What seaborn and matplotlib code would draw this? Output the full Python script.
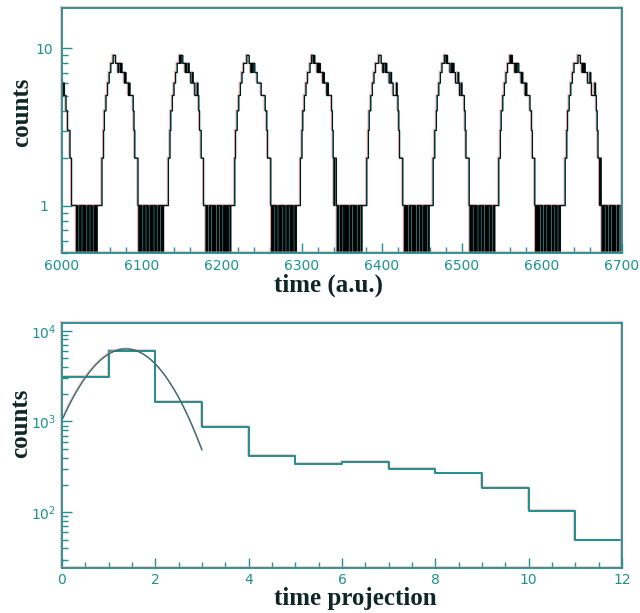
import numpy as np
import pandas as pd
import matplotlib
matplotlib.use("Agg")
import matplotlib.pyplot as plt
import matplotlib.ticker as mticker
import matplotlib.patheffects as pe
import seaborn as sns

# ---------------- data: top panel (counts per time bin, bin width 1) ----------------
time_start = 6000
time_stop = 6700
# tail of the preceding pulse, flat 1s, 0/1 background, flat 1s
lead_counts = "656554433322" "111111" "0100101101010010110100101011" "1111"
# each cycle: pulse (45 bins) + background of 0/1 counts
cycle_counts = [
    "22344556677888" "9998" "887887877767666565555432222" "1" "01010010110100101011010010110101" "11111",
    "22344556677888" "9899" "888787787766766555654332221" "1" "10100101101010010110100101010110" "11111",
    "23344556677888" "8999" "887878877766666555554432222" "1" "0101101001010110100101101010010" "11111",
    "22344556677788" "9989" "888787877767666565555432122" "1" "01001011010101001011010100101101" "11111",
    "22344556677888" "8999" "887887877766766555565432222" "1" "10101001011010100101101001010110" "11111",
    "22334556677888" "9989" "888778787766676556555432222" "1" "0101101010010110100101011010010" "11111",
    "22344556677888" "9898" "887878877767666565555443222" "1" "01010110100101101010010110100101" "11111",
    "22344556677888" "8899" "988787877766676555565432212" "1" "0101101001011010100101101",
]
top_yticks = [1, 10]
top_yticklabels = ["1", "10"]

# ---------------- data: bottom panel (time projection) ----------------
proj_edges = [0, 1, 2, 3, 4, 5, 6, 7, 8, 9, 10, 11, 12]
proj_counts = [3100, 6050, 1650, 880, 415, 340, 360, 298, 268, 187, 104, 49]
fit_amplitude = 6300.0
fit_mean = 1.37
fit_sigma = 0.72
fit_range = (0.0, 3.0)

# ---------------- style ----------------
TEAL = "#1f8f8f"
PINK = "#f09090"
LABEL = "#0f2626"
FIT = "#2d6b6b"

sns.set_theme(style="white")
plt.rcParams["path.simplify"] = False
plt.rcParams["font.family"] = ["DejaVu Sans"]

shadow = [pe.SimpleLineShadow(offset=(-0.7, 0.7), shadow_color=PINK, alpha=0.8), pe.Normal()]
soft_shadow = [pe.SimpleLineShadow(offset=(-0.6, 0.6), shadow_color=PINK, alpha=0.5), pe.Normal()]

fig = plt.figure(figsize=(6.4, 6.13), dpi=100)
W, H = 640.0, 613.0
ax1 = fig.add_axes([62 / W, 1 - 253 / H, 560 / W, 245 / H])
ax2 = fig.add_axes([62 / W, 1 - 567.7 / H, 560 / W, 245 / H])

# ---- top histogram ----
counts = [int(c) for c in lead_counts + "".join(cycle_counts)]
edges = [time_start + i for i in range(len(counts) + 1)]
df_top = pd.DataFrame({"time": [e + 0.5 for e in edges[:-1]], "counts": counts})
sns.histplot(data=df_top, x="time", weights="counts", bins=edges, element="step",
             fill=False, color=TEAL, linewidth=1.0, ax=ax1)
ax1.lines[-1].set_path_effects(shadow)
sns.histplot(data=df_top, x="time", weights="counts", bins=edges, element="step",
             fill=False, color="#030303", linewidth=0.65, ax=ax1)
ax1.set_yscale("log")
ax1.set_xlim(time_start, time_stop)
ax1.set_ylim(0.5, 18)

# ---- bottom histogram + fit ----
df_bot = pd.DataFrame({"x": [e + 0.5 for e in proj_edges[:-1]], "w": proj_counts})
sns.histplot(data=df_bot, x="x", weights="w", bins=proj_edges, element="step",
             fill=False, color=TEAL, linewidth=1.4, ax=ax2)
ax2.lines[-1].set_path_effects(soft_shadow)
fx = np.linspace(fit_range[0], fit_range[1], 200)
fy = fit_amplitude * np.exp(-0.5 * ((fx - fit_mean) / fit_sigma) ** 2)
sns.lineplot(x=fx, y=fy, color=FIT, linewidth=1.0, ax=ax2)
ax2.lines[-1].set_path_effects(soft_shadow)
ax2.set_yscale("log")
ax2.set_xlim(0, 12)
ax2.set_ylim(24.5, 12250)

# ---- axes styling ----
for ax in (ax1, ax2):
    ax.set_facecolor("white")
    ax.grid(False)
    for s in ax.spines.values():
        s.set_visible(True)
        s.set_color(TEAL)
        s.set_linewidth(1.3)
        s.set_path_effects(soft_shadow)
    ax.tick_params(which="both", direction="in", color=TEAL, labelcolor=TEAL,
                   top=False, right=False, left=True, bottom=True, width=1.0)
    ax.tick_params(which="major", length=7.5, labelsize=10)
    ax.tick_params(which="minor", length=4)
    ax.tick_params(axis="y", which="major", pad=13)
    ax.tick_params(axis="x", which="major", pad=4)

ax1.xaxis.set_major_locator(mticker.MultipleLocator(100))
ax1.xaxis.set_minor_locator(mticker.MultipleLocator(20))
ax1.yaxis.set_major_locator(mticker.FixedLocator(top_yticks))
ax1.yaxis.set_major_formatter(mticker.FixedFormatter(top_yticklabels))
ax1.yaxis.set_minor_locator(mticker.LogLocator(base=10, subs=np.arange(2, 10)))
ax1.yaxis.set_minor_formatter(mticker.NullFormatter())

ax2.xaxis.set_major_locator(mticker.MultipleLocator(2))
ax2.xaxis.set_minor_locator(mticker.MultipleLocator(0.5))
ax2.yaxis.set_major_locator(mticker.LogLocator(base=10))
ax2.yaxis.set_major_formatter(mticker.LogFormatterMathtext())
ax2.yaxis.set_minor_locator(mticker.LogLocator(base=10, subs=np.arange(2, 10)))
ax2.yaxis.set_minor_formatter(mticker.NullFormatter())

for ax in (ax1, ax2):
    for t in ax.yaxis.get_major_ticks():
        t.label1.set_horizontalalignment("center")

lab_kw = dict(fontfamily="Liberation Serif", fontweight="bold", fontsize=18, color=LABEL)
ax1.set_xlabel("time (a.u.)", va="baseline", **lab_kw)
ax1.xaxis.set_label_coords(0.475, -0.156)
ax1.set_ylabel("counts", va="center", **lab_kw)
ax1.yaxis.set_label_coords(-0.072, 0.576)

ax2.set_xlabel("time projection", va="baseline", **lab_kw)
ax2.xaxis.set_label_coords(0.524, -0.153)
ax2.set_ylabel("counts", va="center", **lab_kw)
ax2.yaxis.set_label_coords(-0.074, 0.59)

fig.savefig("out.png", dpi=100, facecolor="white")
